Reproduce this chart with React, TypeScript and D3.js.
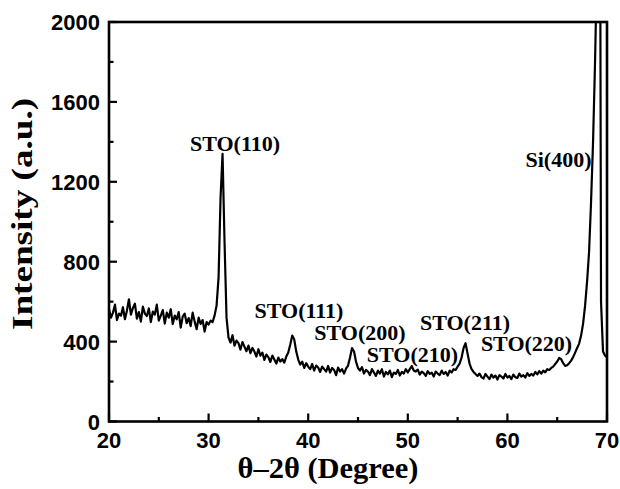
import React from "react";
import * as d3 from "d3";

// 2θ scan: start angle and step (degrees), intensities
const START_ANGLE = 20;
const STEP = 0.2;
const intensity = [
  560, 520, 545, 585, 508, 540, 530, 572, 512, 555,
  612, 535, 568, 590, 515, 548, 500, 575, 540, 528,
  566, 498, 550, 535, 585, 505, 530, 558, 490, 545,
  520, 562, 488, 530, 512, 548, 470, 525, 540, 492,
  518, 478, 545, 500, 462, 520, 488, 508, 450, 498,
  485, 505, 498, 530, 580, 720, 1120, 1340, 900, 520,
  420, 395, 432, 380, 405, 392, 360, 398, 375, 352,
  380, 342, 368, 350, 325, 362, 330, 345, 308, 335,
  322, 298, 330, 310, 290, 320, 300, 312, 295, 325,
  345, 385, 430, 410, 350, 310, 285, 300, 268, 292,
  275, 262, 288, 255, 280, 270, 248, 275, 262, 250,
  278, 245, 268, 258, 232, 270, 250, 262, 240, 265,
  280, 320, 368, 350, 300, 268, 255, 272, 240, 258,
  250, 232, 262, 245, 228, 255, 240, 262, 225, 248,
  236, 255, 222, 245, 238, 258, 230, 248, 240, 262,
  245, 262, 278, 255, 250, 260, 235, 250, 242, 228,
  252, 238, 245, 225, 250, 240, 232, 255, 238, 248,
  230, 255, 245, 262, 258, 275, 290, 320, 368, 392,
  340, 290, 262, 248, 238, 228, 240, 222, 215, 238,
  225, 212, 235, 220, 230, 210, 232, 225, 215, 238,
  220, 228, 212, 235, 222, 218, 240, 225, 232, 220,
  242, 228, 238, 230, 248, 236, 252, 240, 255, 246,
  262, 258, 268, 275, 288, 300, 318, 312, 292, 278,
  282, 292, 305, 322, 345, 368, 390, 430, 490, 580,
  700, 850, 1100, 1400, 1800, 2300, 5000, 600, 350, 330,
  320,
];

const xTicks = [20, 30, 40, 50, 60, 70];
const xMinorTicks = [25, 35, 45, 55, 65];
const yTicks = [0, 400, 800, 1200, 1600, 2000];
const yMinorTicks = [200, 600, 1000, 1400, 1800];

const peakLabels = ["STO(110)", "STO(111)", "STO(200)", "STO(210)", "STO(211)", "STO(220)", "Si(400)"];
const peakLabelAngles = [32.65, 39.08, 45.2, 50.47, 55.74, 61.92, 65.13];
const peakLabelIntensities = [1354, 518, 408, 298, 458, 353, 1274];

const xTitle = "θ–2θ (Degree)";
const yTitle = "Intensity (a.u.)";

export default function App() {
  const W = 620;
  const H = 489;
  const left = 109, right = 607, top = 22, bottom = 421.5;
  const x = d3.scaleLinear().domain([20, 70]).range([left, right]);
  const y = d3.scaleLinear().domain([0, 2000]).range([bottom, top]);

  const data = intensity.map((v, i) => [START_ANGLE + i * STEP, v] as [number, number]);
  const line = d3.line<[number, number]>().x((d) => x(d[0])).y((d) => y(d[1]));

  const tickFont = "'Liberation Sans', Arial, sans-serif";
  const serif = "'Liberation Serif', 'Times New Roman', serif";

  return (
    <svg width={W} height={H} style={{ position: "absolute", left: 0, top: 0, background: "#fff" }}>
      <defs>
        <clipPath id="plotclip">
          <rect x={left} y={top} width={right - left} height={bottom - top} />
        </clipPath>
      </defs>
      <rect x={0} y={0} width={W} height={H} fill="#fff" />
      <path d={line(data) || ""} fill="none" stroke="#000" strokeWidth={2.2} strokeLinejoin="round" clipPath="url(#plotclip)" />

      {/* frame */}
      <rect x={left} y={top} width={right - left} height={bottom - top} fill="none" stroke="#000" strokeWidth={2.6} />

      {/* x ticks */}
      {xTicks.map((t) => (
        <line key={"xt" + t} x1={x(t)} x2={x(t)} y1={bottom} y2={bottom - 8} stroke="#000" strokeWidth={2.2} />
      ))}
      {xMinorTicks.map((t) => (
        <line key={"xm" + t} x1={x(t)} x2={x(t)} y1={bottom} y2={bottom - 4.5} stroke="#000" strokeWidth={2.2} />
      ))}
      {xTicks.map((t) => (
        <text key={"xl" + t} x={x(t)} y={448} textAnchor="middle" fontFamily={tickFont} fontWeight="bold" fontSize={22} fill="#000">
          {t}
        </text>
      ))}

      {/* y ticks */}
      {yTicks.map((t) => (
        <line key={"yt" + t} x1={left} x2={left + 8} y1={y(t)} y2={y(t)} stroke="#000" strokeWidth={2.2} />
      ))}
      {yMinorTicks.map((t) => (
        <line key={"ym" + t} x1={left} x2={left + 4.5} y1={y(t)} y2={y(t)} stroke="#000" strokeWidth={2.2} />
      ))}
      {yTicks.map((t) => (
        <text key={"yl" + t} x={100} y={y(t) + 8} textAnchor="end" fontFamily={tickFont} fontWeight="bold" fontSize={22} fill="#000">
          {t}
        </text>
      ))}

      {/* peak labels */}
      {peakLabels.map((s, i) => (
        <text key={s} x={x(peakLabelAngles[i])} y={y(peakLabelIntensities[i])} textAnchor="middle" fontFamily={serif} fontWeight="bold" fontSize={22} fill="#000">
          {s}
        </text>
      ))}

      {/* axis titles */}
      <text x={328} y={478} textAnchor="middle" fontFamily={serif} fontWeight="bold" fontSize={30} textLength={181} lengthAdjust="spacingAndGlyphs" fill="#000">
        {xTitle}
      </text>
      <text transform="translate(32,214) rotate(-90)" textAnchor="middle" fontFamily={serif} fontWeight="bold" fontSize={30} textLength={232} lengthAdjust="spacingAndGlyphs" fill="#000">
        {yTitle}
      </text>
    </svg>
  );
}
